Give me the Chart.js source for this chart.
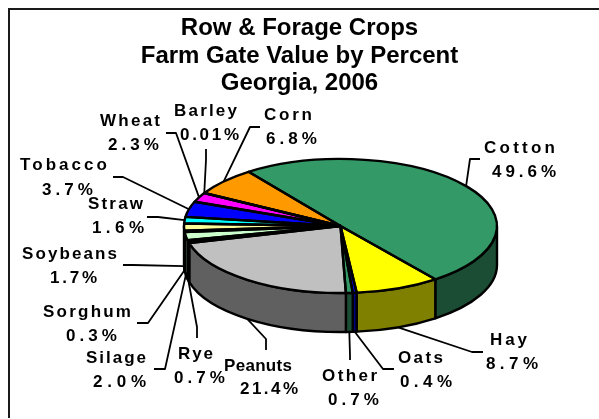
<!DOCTYPE html>
<html><head><meta charset="utf-8">
<style>html,body{margin:0;padding:0;background:#fff}#w{width:599px;height:419px;position:relative}</style>
<script src="https://cdn.jsdelivr.net/npm/chart.js@4"></script>
</head><body><div id="w"><canvas id="c" width="599" height="419"></canvas></div>
<script>
const titleLines = ['Row & Forage Crops', 'Farm Gate Value by Percent', 'Georgia, 2006'];
const categories = ['Cotton','Hay','Oats','Other','Peanuts','Rye','Silage','Sorghum','Soybeans','Straw','Tobacco','Wheat','Barley','Corn'];
const percents = [49.6,8.7,0.4,0.7,21.4,0.7,2.0,0.3,1.7,1.6,3.7,2.3,0.01,6.8];
const topColors = ['#339966','#FFFF00','#0000FF','#339966','#C0C0C0','#000000','#CCFFCC','#000000','#FFFF99','#00FFFF','#0000FF','#FF00FF','#FF0000','#FF9900'];
const sideColors = ['#1A4D33','#808000','#000080','#1A4D33','#606060','#000000','#668066','#000000','#80804D','#008080','#000080','#800080','#800000','#804D00'];

// Presentation only: label text boxes [name x1, name x2, name baseline, value x1, value x2, value baseline]
const labelBoxes = {
  Cotton:[484,555,153,492,556,177], Hay:[490,527,345,486,538,369], Oats:[398,443,363,400,452,387],
  Other:[322,377,381,328,379,405], Peanuts:[224,292,371,240,298,394], Rye:[178,213,359,174,225,383],
  Silage:[86,146,363,93,146,387], Sorghum:[43,131,317,66,117,341], Soybeans:[22,117,259,50,97,283],
  Straw:[88,143,209,92,144,233], Tobacco:[20,107,170,42,93,195], Wheat:[100,160,126,108,159,150],
  Barley:[174,237,116,180,239,140], Corn:[264,312,120,266,317,144]
};
// Presentation only: leader-line elbows
const leaderBends = {
  Cotton:[[470,159],[480,159]], Hay:[[472,352],[483,352]], Oats:[[383,369],[394,369]],
  Other:[[350,355],[350,360]], Peanuts:[[266,339],[266,350]], Rye:[[197,327],[197,338]],
  Silage:[[165,369],[154,369]], Sorghum:[[148,323],[137,323]], Soybeans:[[133,265],[123,265]],
  Straw:[[158,217],[147,217]], Tobacco:[[123,177],[113,177]], Wheat:[[176,133],[166,133]],
  Barley:[[206,160],[206,149]], Corn:[[250,127],[260,127]]
};
const pie = { cx:340.5, cy:226, rx:156.5, ry:67, depth:39 };
const LABEL_FONT = 'bold 17px "Liberation Sans", Arial, sans-serif';

function fmt(v){ return (v < 0.1 ? v.toFixed(2) : v.toFixed(1)) + '%'; }

function fitText(ctx, str, x1, x2, base){
  ctx.letterSpacing = '0px';
  const natural = ctx.measureText(str).width;
  const sp = (x2 - x1 - natural) / Math.max(1, str.length - 1);
  ctx.letterSpacing = sp.toFixed(2) + 'px';
  ctx.fillText(str, x1, base);
  ctx.letterSpacing = '0px';
}

const pie3d = {
  id:'pie3d',
  beforeDraw(chart){
    const ctx = chart.ctx;
    ctx.save();
    ctx.strokeStyle = '#1a1a1a';
    ctx.lineWidth = 2;
    ctx.beginPath();
    ctx.moveTo(9, 418); ctx.lineTo(9, 9); ctx.lineTo(599, 9);
    ctx.stroke();
    ctx.restore();
  },
  beforeDatasetsDraw(chart){
    const ctx = chart.ctx, arcs = chart.getDatasetMeta(0).data;
    ctx.save();
    ctx.lineWidth = 2.4; ctx.strokeStyle = '#000'; ctx.lineJoin = 'round';
    const { cx, cy, rx, ry, depth } = pie;
    arcs.forEach((a, i) => {
      for (const k of [-1, 0, 1]) {
        const lo = Math.max(a.startAngle + k * 2 * Math.PI, 0);
        const hi = Math.min(a.endAngle + k * 2 * Math.PI, Math.PI);
        if (lo >= hi) continue;
        ctx.beginPath();
        ctx.ellipse(cx, cy, rx, ry, 0, lo, hi);
        ctx.ellipse(cx, cy + depth, rx, ry, 0, hi, lo, true);
        ctx.closePath();
        ctx.fillStyle = sideColors[i];
        ctx.fill();
        ctx.stroke();
      }
    });
    ctx.restore();
    // squash the library's own arcs into the tilted ellipse
    const a0 = arcs[0];
    ctx.save();
    ctx.translate(cx, cy);
    ctx.scale(rx / a0.outerRadius, ry / a0.outerRadius);
    ctx.translate(-a0.x, -a0.y);
  },
  afterDatasetsDraw(chart){
    const ctx = chart.ctx, arcs = chart.getDatasetMeta(0).data;
    ctx.restore();
    const { cx, cy, rx, ry, depth } = pie;
    ctx.save();
    ctx.lineWidth = 2.4; ctx.strokeStyle = '#000'; ctx.lineJoin = 'round';
    arcs.forEach(a => {
      ctx.beginPath();
      ctx.moveTo(cx, cy);
      ctx.ellipse(cx, cy, rx, ry, 0, a.startAngle, a.endAngle);
      ctx.closePath();
      ctx.stroke();
    });
    // leaders
    ctx.lineWidth = 1.8;
    arcs.forEach((a, i) => {
      const mid = (a.startAngle + a.endAngle) / 2;
      const s = Math.sin(mid);
      const px = cx + rx * Math.cos(mid);
      const py = cy + ry * s + (s > 0 ? depth : 0);
      const bends = leaderBends[categories[i]];
      ctx.beginPath();
      ctx.moveTo(px, py);
      bends.forEach(b => ctx.lineTo(b[0], b[1]));
      ctx.stroke();
    });
    // labels
    ctx.fillStyle = '#000';
    ctx.font = LABEL_FONT;
    ctx.textAlign = 'left';
    ctx.textBaseline = 'alphabetic';
    categories.forEach((name, i) => {
      const b = labelBoxes[name];
      fitText(ctx, name, b[0], b[1], b[2]);
      fitText(ctx, fmt(percents[i]), b[3], b[4], b[5]);
    });
    ctx.restore();
  }
};

new Chart(document.getElementById('c'), {
  type:'pie',
  data:{ labels:categories, datasets:[{ data:percents, backgroundColor:topColors, borderWidth:0, hoverOffset:0, clip:false }] },
  options:{
    responsive:false, animation:false, events:[],
    rotation:-36, radius:156.5,
    layout:{ padding:0 },
    plugins:{
      legend:{ display:false }, tooltip:{ enabled:false },
      title:{ display:true, text:titleLines, color:'#000',
        font:{ family:'"Liberation Sans", Arial, sans-serif', size:24, weight:'bold', lineHeight:27.5/24 },
        padding:{ top:15, bottom:4 } }
    }
  },
  plugins:[pie3d]
});
</script></body></html>
